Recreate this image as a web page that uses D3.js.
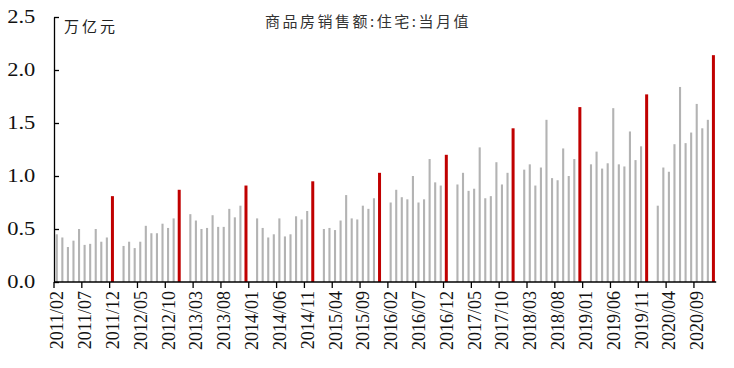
<!DOCTYPE html>
<html>
<head>
    <meta charset="utf-8">
    <title>商品房销售额:住宅:当月值</title>
    <script src="https://d3js.org/d3.v7.min.js"></script>
    <style>
        body { margin: 0; background: white; }
        .tick text { font-family: "Liberation Serif", serif; fill: #111; }
        .domain, .tick line { stroke: #000; stroke-width: 1.3; }
    </style>
</head>
<body>
    <script>
        // monthly values, trillion yuan (January not published -> null)
        var y2011 = [0.45, 0.42, 0.33, 0.39, 0.50, 0.35, 0.36, 0.50, 0.38, 0.42, 0.81];  // Feb-Dec
        var y2012 = [null, 0.34, 0.38, 0.32, 0.38, 0.53, 0.46, 0.46, 0.55, 0.51, 0.60, 0.87];
        var y2013 = [null, 0.64, 0.58, 0.50, 0.51, 0.63, 0.52, 0.52, 0.69, 0.61, 0.72, 0.91];
        var y2014 = [null, 0.60, 0.51, 0.42, 0.45, 0.60, 0.43, 0.45, 0.62, 0.59, 0.67, 0.95];
        var y2015 = [null, 0.50, 0.51, 0.49, 0.58, 0.82, 0.60, 0.59, 0.72, 0.69, 0.79, 1.03];
        var y2016 = [null, 0.75, 0.87, 0.80, 0.78, 1.00, 0.75, 0.78, 1.16, 0.94, 0.91, 1.20];
        var y2017 = [null, 0.92, 1.03, 0.86, 0.88, 1.27, 0.79, 0.81, 1.13, 0.92, 1.03, 1.45];
        var y2018 = [null, 1.06, 1.11, 0.91, 1.08, 1.53, 0.98, 0.96, 1.26, 1.00, 1.16, 1.65];
        var y2019 = [null, 1.11, 1.23, 1.07, 1.12, 1.64, 1.11, 1.09, 1.42, 1.15, 1.28, 1.77];
        var y2020 = [null, 0.72, 1.08, 1.04, 1.30, 1.84, 1.31, 1.41, 1.68, 1.45, 1.53, 2.14];
        var yTicks = [0, 0.5, 1.0, 1.5, 2.0, 2.5];

        var values = [].concat(y2011, y2012, y2013, y2014, y2015, y2016, y2017, y2018, y2019, y2020);
        var months = [];
        var yr = 2011, mo = 2;
        for (var i = 0; i < values.length; i++) {
            months.push(yr + "/" + (mo < 10 ? "0" + mo : mo));
            mo++;
            if (mo > 12) { mo = 1; yr++; }
        }
        var data = months.map(function(m, i){ return {month: m, value: values[i]}; });

        var svg = d3.select("body").append("svg")
                    .attr("width", 734).attr("height", 368);

        var x = d3.scaleBand().domain(months).range([54, 716.2]).padding(0);
        var y = d3.scaleLinear().domain([0, 2.5]).range([282, 17]);

        // bars
        svg.append("g").selectAll("rect")
            .data(data.filter(function(d){ return d.value != null; }))
            .enter().append("rect")
            .attr("x", function(d){
                var w = d.month.slice(5) == "12" ? 3 : 2.1;
                return x(d.month) + x.bandwidth()/2 - w/2;
            })
            .attr("width", function(d){ return d.month.slice(5) == "12" ? 3 : 2.1; })
            .attr("y", function(d){ return y(d.value); })
            .attr("height", function(d){ return y(0) - y(d.value); })
            .attr("fill", function(d){ return d.month.slice(5) == "12" ? "#c00000" : "#b3b3b3"; });

        // y axis
        var yAxis = svg.append("g").attr("transform", "translate(54,0)")
            .call(d3.axisLeft(y).tickValues(yTicks).tickSize(-5).tickSizeOuter(0)
                    .tickPadding(15).tickFormat(d3.format(".1f")));
        yAxis.selectAll("text")
            .style("font-size", "18px")
            .attr("transform", "scale(1.25,1)");

        // x axis: ticks on category boundaries, every 5 months
        var xg = svg.append("g");
        xg.append("line")
            .attr("x1", 54).attr("x2", 716.2)
            .attr("y1", y(0)).attr("y2", y(0))
            .attr("stroke", "#000").attr("stroke-width", 1.3);
        var tickMonths = months.filter(function(m, i){ return i % 5 == 0; });
        xg.selectAll("line.tk").data(tickMonths).enter().append("line")
            .attr("class", "tk")
            .attr("x1", function(d){ return x(d); }).attr("x2", function(d){ return x(d); })
            .attr("y1", y(0)).attr("y2", y(0) + 6)
            .attr("stroke", "#000").attr("stroke-width", 1.3);
        xg.selectAll("text").data(tickMonths).enter().append("text")
            .text(function(d){ return d; })
            .attr("transform", function(d){
                return "translate(" + (x(d) + x.bandwidth()/2 + 0.5) + "," + 291 + ") rotate(-90)";
            })
            .attr("text-anchor", "end")
            .attr("dominant-baseline", "central")
            .style("font-family", "'Liberation Serif', serif")
            .style("font-size", "18px")
            .attr("fill", "#111");

        // title and unit
        svg.append("text")
            .text("商品房销售额:住宅:当月值")
            .attr("x", 368).attr("y", 20)
            .attr("text-anchor", "middle")
            .attr("dominant-baseline", "central")
            .style("font-family", "'Noto Sans CJK SC', sans-serif")
            .style("font-size", "15px")
            .style("letter-spacing", "2.5px")
            .attr("fill", "#333");

        svg.append("text")
            .text("万亿元")
            .attr("x", 64).attr("y", 25)
            .attr("dominant-baseline", "central")
            .style("font-family", "'Noto Sans CJK SC', sans-serif")
            .style("font-size", "15px")
            .style("letter-spacing", "3px")
            .attr("fill", "#222");
    </script>
</body>
</html>
